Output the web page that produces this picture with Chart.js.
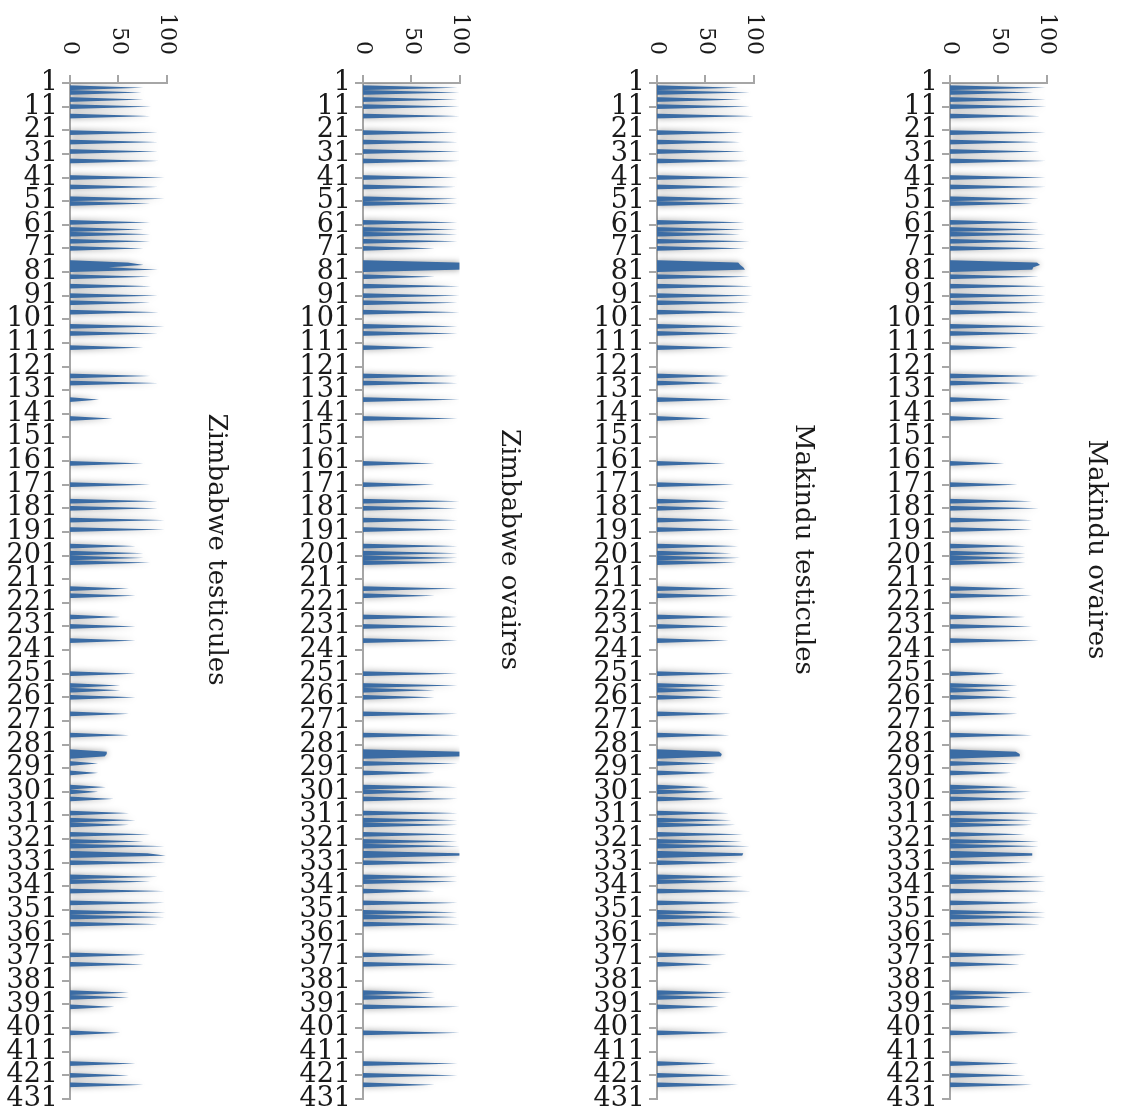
<!DOCTYPE html>
<html>
<head>
<meta charset="utf-8">
<script src="https://cdn.jsdelivr.net/npm/chart.js@4.4.0/dist/chart.umd.min.js"></script>
<style>
html, body { margin: 0; padding: 0; background: #fff; width: 1124px; height: 1116px; overflow: hidden; }
/* le graphique d'origine est horizontal : on le tourne d'un quart de tour */
#rotation { position: absolute; left: 0; top: 0; width: 1116px; height: 1124px;
  transform-origin: 0 0; transform: translate(1124px, 0) rotate(90deg); }
.panneau { position: absolute; left: 0; width: 1116px; height: 294px; }
canvas { display: block; }
</style>
</head>
<body>
<div id="rotation">
  <div class="panneau" style="top:-7px"><canvas id="g-mo" width="1116" height="294"></canvas></div>
  <div class="panneau" style="top:286px"><canvas id="g-mt" width="1116" height="294"></canvas></div>
  <div class="panneau" style="top:580px"><canvas id="g-zo" width="1116" height="294"></canvas></div>
  <div class="panneau" style="top:873px"><canvas id="g-zt" width="1116" height="294"></canvas></div>
</div>
<script>
// --- DONNÉES ---
const nbCategories = 431;
const categories = Array.from({ length: nbCategories }, (_, i) => String(i + 1));
const ticksValeurs = [0, 50, 100];

// positions (numéro de catégorie) où une valeur non nulle apparaît
const positions = [
  3, 5, 8, 11, 15, 22, 26, 30, 34, 41, 45, 50, 52, 60, 63, 65, 68, 71, 77, 78,
  79, 80, 83, 87, 91, 94, 98, 104, 107, 113, 125, 128, 135, 143,
  162, 171, 178, 181, 186, 190, 197, 200, 202, 204, 215, 218, 227, 231, 237, 251,
  256, 258, 261, 268, 277, 284, 285, 286,
  289, 293, 299, 301, 304, 310, 313, 315, 319, 322, 324, 327, 328, 331, 337, 339,
  343, 348, 352, 354, 357, 370, 374, 386, 388, 392, 403, 416, 421, 425
];

const makinduOvaires = [
  99, 86, 99, 100, 93, 99, 92, 93, 99, 99, 99, 92, 85, 92, 92, 99, 92, 99, 90, 93,
  86, 85, 92, 99, 99, 99, 92, 99, 92, 70, 92, 77, 63, 56,
  56, 70, 85, 92, 85, 85, 78, 78, 78, 78, 78, 85, 78, 85, 92, 56,
  70, 63, 70, 70, 85, 68, 72, 72,
  70, 63, 70, 84, 79, 92, 85, 85, 78, 92, 92, 85, 85, 85, 99, 99,
  99, 92, 99, 99, 93, 79, 72, 85, 64, 63, 71, 71, 78, 85
];

const makinduTesticules = [
  84, 96, 87, 96, 100, 89, 86, 91, 94, 96, 89, 89, 91, 91, 91, 86, 96, 91, 84, 86,
  89, 91, 96, 99, 99, 96, 92, 89, 84, 79, 75, 68, 77, 56,
  71, 80, 75, 71, 80, 86, 84, 77, 86, 82, 80, 84, 79, 74, 74, 79,
  71, 67, 69, 76, 75, 64, 67, 66,
  61, 60, 54, 60, 69, 74, 77, 81, 89, 88, 96, 89, 88, 84, 89, 84,
  97, 86, 81, 87, 75, 72, 57, 77, 72, 64, 74, 61, 77, 84
];

const zimbabweOvaires = [
  98, 100, 98, 100, 100, 98, 98, 100, 100, 98, 96, 98, 98, 98, 98, 98, 98, 74, 100, 100,
  100, 100, 74, 100, 100, 98, 100, 98, 98, 74, 98, 98, 100, 98,
  74, 74, 100, 98, 98, 98, 98, 98, 98, 98, 98, 74, 98, 98, 98, 98,
  98, 74, 74, 98, 100, 100, 100, 100,
  98, 74, 98, 74, 98, 98, 98, 98, 98, 98, 100, 100, 100, 98, 98, 98,
  74, 98, 98, 98, 100, 75, 98, 74, 75, 100, 100, 98, 98, 74
];

const zimbabweTesticules = [
  76, 74, 76, 84, 83, 91, 91, 91, 92, 98, 91, 98, 83, 83, 76, 83, 83, 76, 60, 76,
  40, 91, 83, 84, 91, 83, 92, 98, 91, 76, 83, 91, 30, 44,
  76, 83, 91, 91, 98, 98, 68, 76, 76, 83, 61, 68, 52, 68, 68, 68,
  52, 52, 68, 61, 61, 38, 38, 36,
  29, 29, 37, 29, 45, 61, 68, 61, 83, 76, 98, 80, 99, 99, 91, 83,
  98, 98, 99, 98, 91, 78, 76, 61, 61, 46, 52, 68, 61, 76
];

// --- STYLE ---
const couleurAire = '#3b6ca4';
const gris = '#a6a6a6';
const couleurTexte = '#1a1a1a';
const police = 'DejaVu Serif';

// Série complète (zéro partout où il n'y a pas de pic)
function construireSerie(valeurs) {
  const serie = new Array(nbCategories).fill(0);
  positions.forEach((p, i) => { serie[p - 1] = valeurs[i]; });
  return serie;
}

// petite ombre douce autour des aires, comme dans Excel
const ombre = {
  id: 'ombre',
  beforeDatasetsDraw(chart) {
    const ctx = chart.ctx;
    ctx.save();
    ctx.shadowColor = 'rgba(0,0,0,0.4)';
    ctx.shadowBlur = 6;
  },
  afterDatasetsDraw(chart) {
    chart.ctx.restore();
  }
};

function creerGraphique(idCanvas, titre, valeurs) {
  return new Chart(document.getElementById(idCanvas), {
    type: 'line',
    data: {
      labels: categories,
      datasets: [{
        data: construireSerie(valeurs),
        fill: 'origin',
        backgroundColor: couleurAire,
        borderWidth: 0,
        pointRadius: 0,
        tension: 0
      }]
    },
    options: {
      responsive: false,
      animation: false,
      events: [],
      layout: { padding: { left: 0, right: 17, top: 0, bottom: 0 } },
      plugins: {
        legend: { display: false },
        tooltip: { enabled: false },
        title: {
          display: true,
          text: titre,
          color: couleurTexte,
          font: { family: police, size: 26, weight: 'normal' },
          padding: { top: 20, bottom: 33 }
        }
      },
      scales: {
        x: {
          type: 'category',
          offset: false,
          afterBuildTicks: s => { s.ticks = s.ticks.filter(t => t.value % 10 === 0); },
          afterFit: s => { s.height = 113; s.paddingLeft = 0; s.paddingRight = 0; },
          ticks: {
            autoSkip: false,
            minRotation: 90,
            maxRotation: 90,
            padding: 4,
            color: couleurTexte,
            font: { family: police, size: 27 }
          },
          grid: { drawOnChartArea: false, tickLength: 8, color: gris, lineWidth: 2 },
          border: { display: true, color: gris, width: 2 }
        },
        y: {
          min: 0,
          max: 100,
          afterFit: s => { s.width = 83; s.paddingTop = 0; s.paddingBottom = 0; },
          afterBuildTicks: s => { s.ticks = ticksValeurs.map(v => ({ value: v })); },
          ticks: {
            padding: 20,
            color: couleurTexte,
            font: { family: police, size: 22 }
          },
          grid: { drawOnChartArea: false, tickLength: 8, color: gris, lineWidth: 2 },
          border: { display: true, color: gris, width: 2 }
        }
      }
    },
    plugins: [ombre]
  });
}

// --- INITIALISATION ---
creerGraphique('g-mo', 'Makindu ovaires', makinduOvaires);
creerGraphique('g-mt', 'Makindu testicules', makinduTesticules);
creerGraphique('g-zo', 'Zimbabwe ovaires', zimbabweOvaires);
creerGraphique('g-zt', 'Zimbabwe testicules', zimbabweTesticules);
</script>
</body>
</html>
